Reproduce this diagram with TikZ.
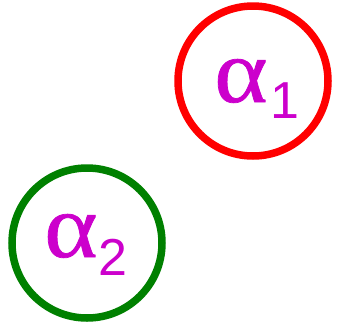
\documentclass[tikz,border=0pt]{standalone}
\usepackage{fontspec}
\newfontfamily\grk[FakeBold=0.8,FakeStretch=1.12]{Liberation Serif}
\newfontfamily\dig{Liberation Sans}
\definecolor{mag}{RGB}{204,0,204}
\definecolor{dgreen}{RGB}{0,128,0}
\begin{document}
\begin{tikzpicture}[x=1pt,y=-1pt,
  ring/.style={circle, line width=7.5pt, minimum size=150pt, inner sep=0pt},
  alpha/.style={text=mag, inner sep=0pt, anchor=base west, font=\grk\fontsize{91}{91}\selectfont},
  sub/.style={text=mag, inner sep=0pt, anchor=base west, font=\dig\fontsize{52}{52}\selectfont}]
\useasboundingbox (0,0) rectangle (337,327);
\node[ring, draw=red] (c1) at (253,81) {};
\node[ring, draw=dgreen] (c2) at (87,243) {};
\node[alpha] (a1) at (214,102) {α};
\node[sub] (s1) at (270,118) {1};
\node[alpha] (a2) at (44,257) {α};
\node[sub] (s2) at (98,275) {2};
\end{tikzpicture}
\end{document}
